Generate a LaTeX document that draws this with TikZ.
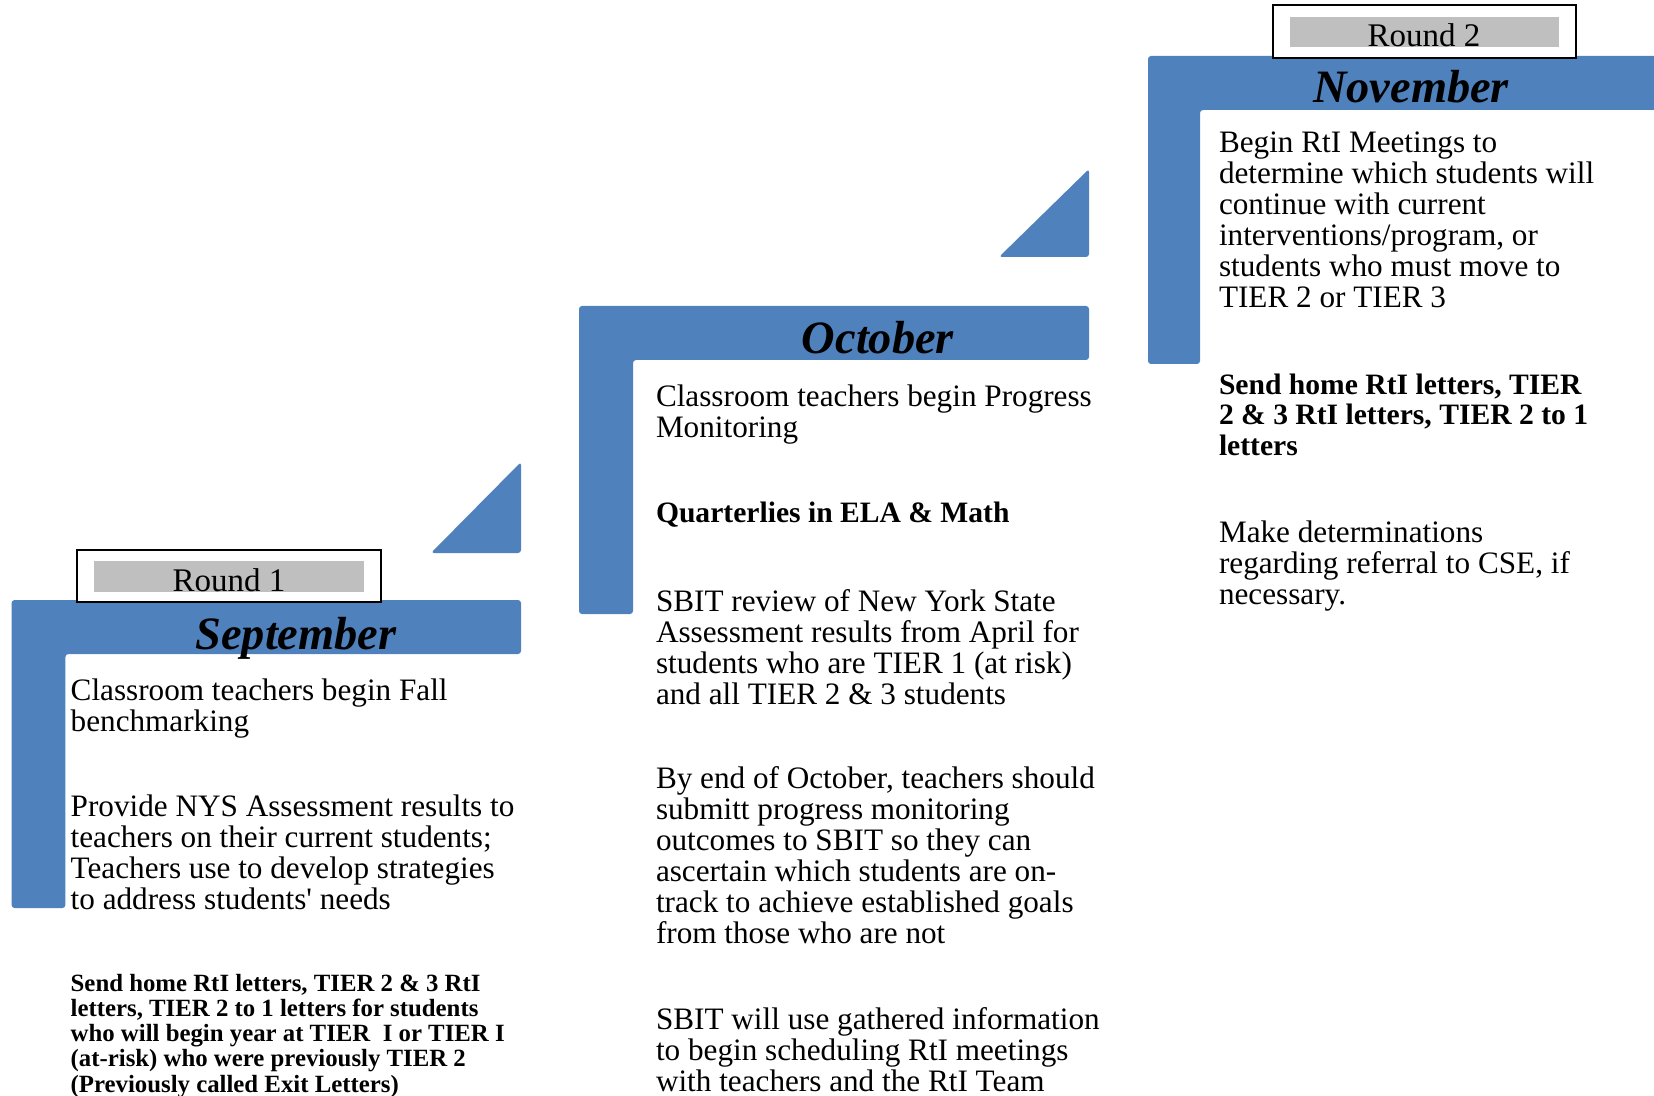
\documentclass[tikz,border=0pt]{standalone}
\usepackage{fontspec}
\setmainfont{Liberation Serif}
\definecolor{stepblue}{HTML}{4F81BD}
\definecolor{roundgray}{HTML}{BFBFBF}
\newcommand\bodyfont{\fontsize{15.6}{15.5}\selectfont}
\newcommand\boldfont{\fontsize{14.8}{15.5}\selectfont\bfseries}
\newcommand\smallbold{\fontsize{12.4}{12.65}\selectfont\bfseries}
\newcommand\monthfont{\fontsize{23.2}{24}\selectfont\bfseries\itshape}
\newcommand\roundfont{\fontsize{16.5}{18}\selectfont}
\newcommand\txtblock[2]{\parbox[t]{330pt}{#1\raggedright #2}}
\tikzset{
  para/.style={anchor=base west, inner sep=0pt, outer sep=0pt},
  month/.style={anchor=base, inner sep=0pt, font=\monthfont},
  roundlabel/.style={anchor=base, inner sep=0pt, font=\roundfont},
  stepshape/.style={fill=stepblue, rounded corners=1.5pt},
  roundframe/.style={draw=black, fill=white, line width=0.85pt},
}
\begin{document}
\begin{tikzpicture}[x=0.5pt,y=-0.5pt]
\useasboundingbox (0,0) rectangle (1654,1096);
\fill[white] (0,0) rectangle (1654,1096);

% ---------- September ----------
\fill[stepshape] (11.6,600) -- (521,600) -- (521,654) -- (65.4,654) -- (65.4,908) -- (11.6,908) -- cycle;
\draw[roundframe] (77,550) rectangle (381,602);
\fill[roundgray] (94,561) rectangle (364,592);
\node[roundlabel] (round1) at (229,591) {Round 1};
\node[month] (sep) at (296,649) {September};
\node[para] (sep1) at (70.7,700) {\txtblock{\bodyfont}{Classroom teachers begin Fall\\benchmarking}};
\node[para] (sep2) at (70.7,816) {\txtblock{\bodyfont}{Provide NYS Assessment results to\\teachers on their current students;\\Teachers use to develop strategies\\to address students\textquotesingle{} needs}};
\node[para] (sep3) at (70.7,991) {\txtblock{\smallbold}{Send home RtI letters, TIER 2 \& 3 RtI\\letters, TIER 2 to 1 letters for students\\who will begin year at TIER\ \ I or TIER I\\(at-risk) who were previously TIER 2\\(Previously called Exit Letters)}};

% triangle 1
\fill[stepshape] (431,553) -- (521,553) -- (521,462) -- cycle;

% ---------- October ----------
\fill[stepshape] (579,306) -- (1089,306) -- (1089,360) -- (633,360) -- (633,614) -- (579,614) -- cycle;
\node[month] (oct) at (878,354) {October};
\node[para] (oct1) at (656,407) {\txtblock{\bodyfont}{Classroom teachers begin Progress\\Monitoring}};
\node[para] (oct2) at (656,522) {\txtblock{\boldfont}{Quarterlies in ELA \& Math}};
\node[para] (oct3) at (656,611) {\txtblock{\bodyfont}{SBIT review of New York State\\Assessment results from April for\\students who are TIER 1 (at risk)\\and all TIER 2 \& 3 students}};
\node[para] (oct4) at (656,788) {\txtblock{\bodyfont}{By end of October, teachers should\\submitt progress monitoring\\outcomes to SBIT so they can\\ascertain which students are on-\\track to achieve established goals\\from those who are not}};
\node[para] (oct5) at (656,1029) {\txtblock{\bodyfont}{SBIT will use gathered information\\to begin scheduling RtI meetings\\with teachers and the RtI Team}};

% triangle 2
\fill[stepshape] (999,257) -- (1089,257) -- (1089,169) -- cycle;

% ---------- November ----------
\fill[stepshape] (1148,56) -- (1660,56) -- (1660,110) -- (1200,110) -- (1200,364) -- (1148,364) -- cycle;
\draw[roundframe] (1273,5) rectangle (1576,58);
\fill[roundgray] (1290,17) rectangle (1559,47);
\node[roundlabel] (round2) at (1424,47) {Round 2};
\node[month] (nov) at (1411,103) {November};
\node[para] (nov1) at (1219,153) {\txtblock{\bodyfont}{Begin RtI Meetings to\\determine which students will\\continue with current\\interventions/program, or\\students who must move to\\TIER 2 or TIER 3}};
\node[para] (nov2) at (1219,394) {\txtblock{\boldfont}{Send home RtI letters, TIER\\2 \& 3 RtI letters, TIER 2 to 1\\letters}};
\node[para] (nov3) at (1219,542) {\txtblock{\bodyfont}{Make determinations\\regarding referral to CSE, if\\necessary.}};
\end{tikzpicture}
\end{document}
